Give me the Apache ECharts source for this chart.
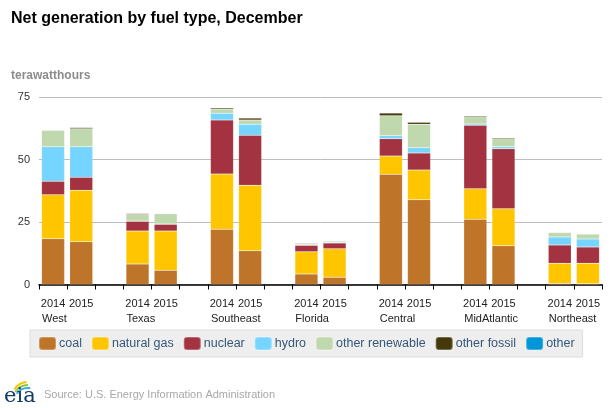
<!DOCTYPE html>
<html>
<head>
<meta charset="utf-8">
<script src="https://cdn.jsdelivr.net/npm/echarts@6/dist/echarts.min.js"></script>
<style>html,body{margin:0;padding:0;background:#fff;}#c{width:612px;height:408px;}</style>
</head>
<body>
<div id="c"></div>
<script>
// Categories: each region has 2014, 2015 and a spacer slot (none after last)
const regions = ['West', 'Texas', 'Southeast', 'Florida', 'Central', 'MidAtlantic', 'Northeast'];
const years = ['2014', '2015'];
const yTicks = [0, 25, 50, 75];

// Values in terawatthours, [2014, 2015] per region
const coal        = [[18.3, 17.1], [8.2, 5.7], [22.1, 13.5], [4.2, 2.9], [44.1, 33.9], [26.1, 15.5], [0.4, 0.3]];
const naturalGas  = [[17.6, 20.6], [13.2, 15.7], [22.1, 26.2], [8.9, 11.4], [7.3, 11.9], [12.2, 14.8], [8.1, 8.2]];
const nuclear     = [[5.4, 5.2], [3.9, 2.7], [21.6, 20.0], [2.6, 2.3], [6.9, 6.8], [25.4, 24.0], [7.3, 6.5]];
const hydro       = [[13.8, 12.2], [0.1, 0.1], [2.7, 4.4], [0.0, 0.3], [1.2, 2.1], [0.5, 0.8], [3.2, 3.2]];
const otherRenew  = [[6.6, 7.2], [2.6, 4.1], [1.7, 1.7], [0.4, 0.5], [8.0, 9.4], [2.9, 3.2], [1.8, 2.0]];
const otherFossil = [[0.1, 0.5], [0.4, 0.1], [0.5, 0.8], [0.3, 0.1], [1.1, 0.8], [0.4, 0.4], [0.1, 0.1]];
const other       = [[0.0, 0.0], [0.0, 0.0], [0.0, 0.0], [0.0, 0.0], [0.1, 0.1], [0.0, 0.0], [0.0, 0.0]];

const seriesDefs = [
  ['coal', coal, '#be7429'],
  ['natural gas', naturalGas, '#ffc600'],
  ['nuclear', nuclear, '#a33340'],
  ['hydro', hydro, '#76d5ff'],
  ['other renewable', otherRenew, '#c0d8ad'],
  ['other fossil', otherFossil, '#45390c'],
  ['other', other, '#0096d7']
];

const cats = [];
regions.forEach((r, i) => {
  years.forEach(y => cats.push(y));
  if (i < regions.length - 1) cats.push('');
});

function flatten(arr) {
  const out = [];
  arr.forEach((pair, i) => {
    out.push(pair[0], pair[1]);
    if (i < arr.length - 1) out.push('-');
  });
  return out;
}

const FONT = 'Liberation Sans, Arial, sans-serif';
const chart = echarts.init(document.getElementById('c'), null, {renderer: 'canvas'});
const nSlots = cats.length;

chart.setOption({
  animation: false,
  textStyle: {fontFamily: FONT},
  title: [
    {text: 'Net generation by fuel type, December', left: 11, top: 11, padding: 0,
     textStyle: {fontSize: 16, fontWeight: 'bold', color: '#000', fontFamily: FONT}},
    {text: 'terawatthours', left: 11, top: 70, padding: 0,
     textStyle: {fontSize: 12, fontWeight: 'bold', color: '#8c8c8c', fontFamily: FONT}},
    {text: 'Source: U.S. Energy Information Administration', left: 44, top: 389, padding: 0,
     textStyle: {fontSize: 11, fontWeight: 'normal', color: '#a8a8a8', fontFamily: FONT}}
  ],
  legend: {
    left: 30, top: 330,
    padding: [6, 8, 6, 8],
    itemWidth: 17, itemHeight: 13, itemGap: 9,
    icon: 'roundRect',
    backgroundColor: '#eeeeee',
    borderColor: '#dddddd', borderWidth: 1,
    textStyle: {fontSize: 12.5, color: '#36587a', fontFamily: FONT, padding: [0, 0, 0, -2]},
    data: seriesDefs.map(s => s[0])
  },
  grid: {left: 39, right: 10, top: 97, bottom: 123.5, containLabel: false},
  xAxis: [
    {
      type: 'category', data: cats, position: 'bottom', offset: 9,
      axisLine: {lineStyle: {color: '#000', width: 1.5}},
      axisTick: {show: true, interval: 0, length: 5, lineStyle: {color: '#000', width: 1}},
      axisLabel: {interval: 0, margin: 5, fontSize: 11, color: '#222', fontFamily: FONT},
      splitLine: {show: false}
    },
    {
      type: 'value', min: 0, max: nSlots, interval: 3, position: 'bottom', offset: 9,
      axisLine: {show: false}, axisTick: {show: false}, splitLine: {show: false},
      axisLabel: {
        margin: 20, fontSize: 11, color: '#222', fontFamily: FONT, align: 'left',
        padding: [0, 0, 0, 3], showMaxLabel: false,
        formatter: v => (v % 3 === 0 && regions[v / 3] !== undefined) ? regions[v / 3] : ''
      }
    }
  ],
  yAxis: {
    type: 'value', min: yTicks[0], max: yTicks[yTicks.length - 1], interval: 25,
    axisLine: {show: false}, axisTick: {show: false},
    axisLabel: {margin: 9, fontSize: 11, color: '#333', fontFamily: FONT},
    splitLine: {lineStyle: {color: '#bdbdbd', width: 1}}
  },
  series: seriesDefs.map(s => ({
    name: s[0], type: 'bar', stack: 'total', xAxisIndex: 0,
    barWidth: 23,
    data: flatten(s[1]),
    itemStyle: {color: s[2], borderColor: 'rgba(255,255,255,0.25)', borderWidth: 0.5},
    emphasis: {disabled: true}
  })),
  graphic: [
    {type: 'arc', shape: {cx: 28, cy: 398, r: 16, startAngle: Math.PI * 1.18, endAngle: Math.PI * 1.47},
     style: {stroke: '#f6c400', lineWidth: 2, fill: null}},
    {type: 'arc', shape: {cx: 28, cy: 400, r: 15, startAngle: Math.PI * 1.18, endAngle: Math.PI * 1.5},
     style: {stroke: '#8dc63f', lineWidth: 2, fill: null}},
    {type: 'arc', shape: {cx: 28, cy: 402, r: 14, startAngle: Math.PI * 1.2, endAngle: Math.PI * 1.55},
     style: {stroke: '#3fa9e0', lineWidth: 2, fill: null}},
    {type: 'text', left: 4, top: 386,
     style: {text: 'eia', font: '21px "DejaVu Serif", serif', fill: '#123a6b'}}
  ]
});
</script>
</body>
</html>
